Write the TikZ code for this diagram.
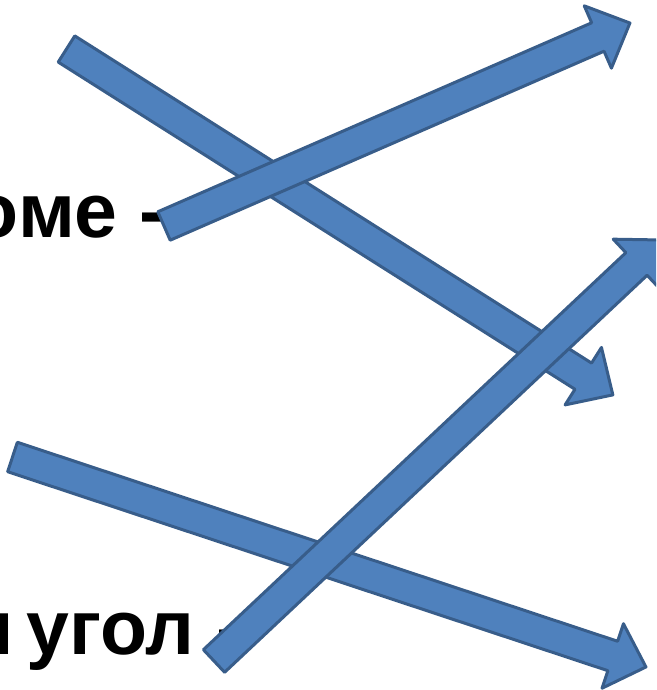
\documentclass[tikz,border=0pt]{standalone}
\usepackage{fontspec}
\setmainfont{Liberation Sans}
\usepackage{xcolor}
\usepackage{tikz}
\usetikzlibrary{calc}

\definecolor{arrowfill}{HTML}{4F81BD}
\definecolor{arrowline}{HTML}{385D8A}
\tikzset{
  arrowbody/.style={fill=arrowfill, draw=arrowline, line width=3pt, line join=round},
  bigtext/.style={font=\fontsize{77}{80}\selectfont\bfseries, inner sep=0pt}
}

% block arrow from tail #1 to tip #2
\newcommand{\blockarrow}[2]{%
  \draw[arrowbody] let \p1 = ($(#2)-(#1)$), \n1 = {veclen(\x1,\y1)}, \n2 = {atan2(\y1,\x1)} in
    [shift={(#1)}, rotate=\n2]
    (0pt,-15.5pt) -- (\n1-35pt,-15.5pt) -- (\n1-35pt,-34pt) -- (\n1,0pt)
    -- (\n1-35pt,34pt) -- (\n1-35pt,15.5pt) -- (0pt,15.5pt) -- cycle;
}

\begin{document}
\begin{tikzpicture}[x=1pt, y=1pt]
  \useasboundingbox (0,0) rectangle (656,690);
  \clip (0,0) rectangle (656,690);

  % tails and tips
  \coordinate (tail1) at (164,464);  \coordinate (tip1) at (630,667);
  \coordinate (tail2) at (66.5,641); \coordinate (tip2) at (613,295);
  \coordinate (tail3) at (12.5,233); \coordinate (tip3) at (646,23);
  \coordinate (tail4) at (214,29);   \coordinate (tip4) at (662,450);

  % text behind the arrows
  \node[bigtext, anchor=base east] (upper) at (165,452) {оме -};
  \node[bigtext, anchor=base east] (lower) at (242,35) {и\kern-8pt{} угол -};

  % arrows
  \blockarrow{tail2}{tip2}
  \blockarrow{tail1}{tip1}
  \blockarrow{tail3}{tip3}
  \blockarrow{tail4}{tip4}
\end{tikzpicture}
\end{document}
